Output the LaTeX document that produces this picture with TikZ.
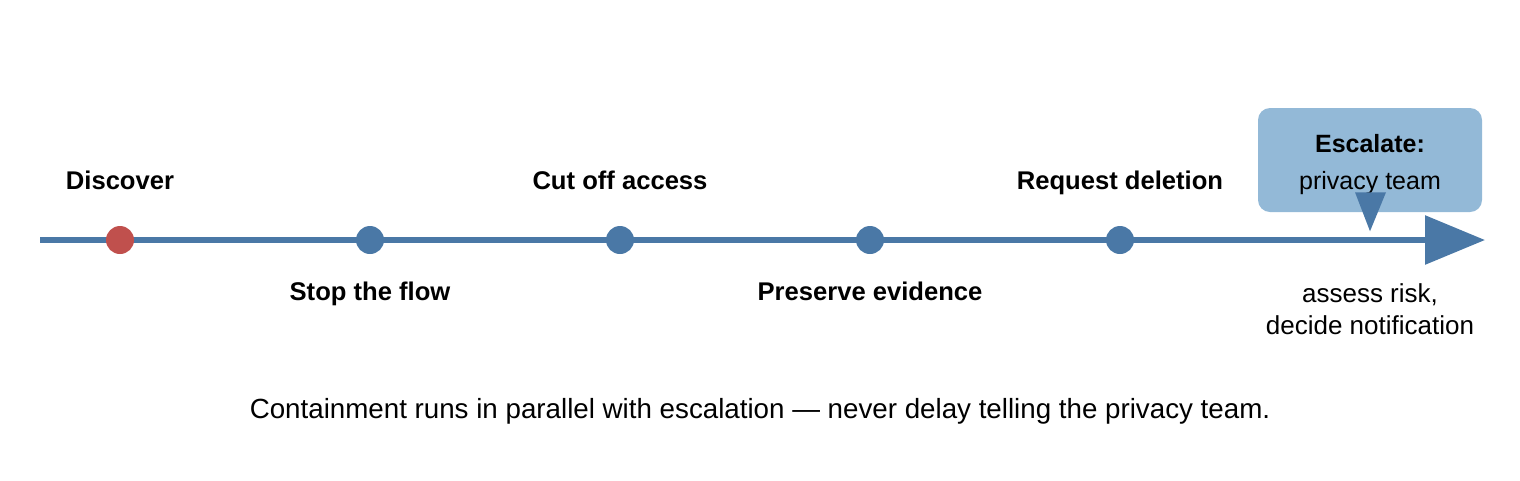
\documentclass[tikz,border=0pt]{standalone}
\usepackage{fontspec}
\setmainfont{Liberation Sans}
\usetikzlibrary{positioning, arrows.meta, calc}

\definecolor{lineblue}{HTML}{4A78A6}
\definecolor{dotred}{HTML}{C0504D}
\definecolor{boxblue}{HTML}{93B9D7}

\begin{document}
\begin{tikzpicture}[x=0.75pt, y=-0.75pt]
    \tikzset{
        dot/.style = {circle, fill=lineblue, inner sep=0pt, outer sep=0pt, minimum size=21pt},
        steplabel/.style = {inner sep=0pt, text height=13.5pt, text depth=0pt, font=\fontsize{19.2}{22}\selectfont\bfseries},
        timeline/.style = {draw=lineblue, line width=4.5pt, -{Triangle[length=45pt, width=36pt]}},
        escbox/.style = {rectangle, fill=boxblue, rounded corners=9pt, minimum width=168pt, minimum height=78pt, align=center, font=\fontsize{18.75}{27.75}\selectfont},
        note/.style = {align=center, inner sep=0pt, font=\fontsize{19.5}{24}\selectfont},
    }
    \useasboundingbox (0,0) rectangle (1520,480);

    \coordinate (start) at (40,240);
    \coordinate (end) at (1485,240);
    \path [timeline] (start) -- (end);

    \node[dot, fill=dotred](discover) at (120,240){};
    \node[dot](stop)[right = 166.5pt of discover]{};
    \node[dot](cut)[right = 166.5pt of stop]{};
    \node[dot](preserve)[right = 166.5pt of cut]{};
    \node[dot](request)[right = 166.5pt of preserve]{};

    \node[steplabel](discoverlabel)[above = 27pt of discover]{Discover};
    \node[steplabel](stoplabel)[below = 21pt of stop]{Stop the flow};
    \node[steplabel](cutlabel)[above = 27pt of cut]{Cut off access};
    \node[steplabel](preservelabel)[below = 21pt of preserve]{Preserve evidence};
    \node[steplabel](requestlabel)[above = 27pt of request]{Request deletion};

    \node[escbox](escalate) at (1370,160){\rule{0pt}{20pt}{\bfseries Escalate:}\\privacy team};
    \coordinate (pointleft) at ($(escalate.south)+(-15,-20)$);
    \coordinate (pointright) at ($(escalate.south)+(16,-20)$);
    \coordinate (pointtip) at ($(escalate.south)+(0,19)$);
    \fill[lineblue] (pointleft) -- (pointright) -- (pointtip) -- cycle;

    \node[note](assess) at (1370,309){assess risk,\\decide notification};

    \node[note, font=\fontsize{20.8}{24}\selectfont](caption) at (760,411){Containment runs in parallel with escalation — never delay telling the privacy team.};

\end{tikzpicture}
\end{document}
